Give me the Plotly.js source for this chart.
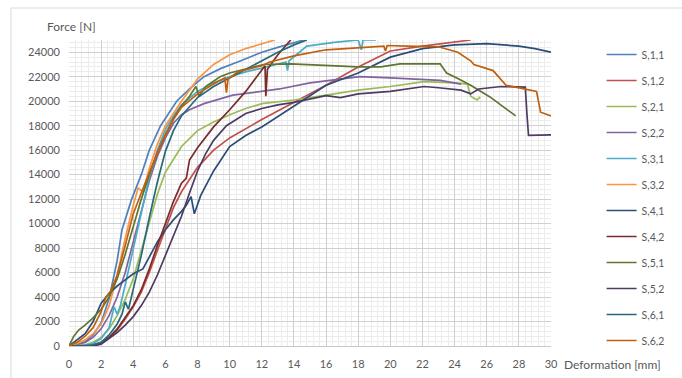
<!DOCTYPE html>
<html>
<head>
<meta charset="utf-8">
<script src="https://cdn.plot.ly/plotly-3.0.1.min.js"></script>
<style>html,body{margin:0;padding:0;background:#fff;}#chart{width:682px;height:378px;}</style>
</head>
<body>
<div id="chart"></div>
<script>
// ---- data (deformation [mm], force [N]) ----
const names = ["S,1,1","S,1,2","S,2,1","S,2,2","S,3,1","S,3,2","S,4,1","S,4,2","S,5,1","S,5,2","S,6,1","S,6,2"];
const colors = ["#4F81BD","#C0504D","#9BBB59","#8064A2","#4BACC6","#F79646","#2C4D75","#772C2A","#5F7530","#4D3B62","#276A7C","#C0600E"];

const s11x = [0,0.5,1,1.5,2,2.5,3,3.3,3.9,4.5,5,5.7,6.7,7.5,8.4,9.5,10.5,12,13,14,14.6];
const s11y = [0,100,350,900,1900,3900,7000,9500,12000,14000,16000,18000,20000,21000,22000,22700,23200,24000,24400,24800,25000];

const s12x = [0,1,1.5,2,2.5,3,3.5,4,4.5,5,5.5,6,6.5,7,7.5,8,9,10,12,14,16,18,20,22,24,25];
const s12y = [0,0,80,300,700,1300,2200,3200,4400,6000,7800,9600,11300,12600,13600,14600,16000,17000,18500,19900,21300,22800,24100,24500,24800,25000];

const s21x = [0,1,1.5,2,2.5,3,3.5,4,4.5,5,5.5,6,7,8,9,10,11,12,14,16.5,18,20,22.1,24,24.8,25,25.4,25.6];
const s21y = [0,100,300,700,1400,2500,3800,5500,7800,10200,12400,14200,16300,17600,18300,18900,19400,19800,20100,20600,20900,21200,21600,21500,21400,20400,20100,20350];

const s22x = [0,1,1.5,2,2.5,3,3.5,4,4.5,5,5.5,6,6.5,7,7.5,8.4,10.2,12,13.1,15,18.1,20,23.1,24.4];
const s22y = [0,300,700,1400,2500,4000,6000,8500,11000,13500,15500,17000,18200,18900,19300,19800,20500,20800,21000,21500,22000,21900,21700,21400];

const s31x = [0,1,1.5,2,2.5,2.8,3,3.2,3.5,4,4.5,5,5.5,6,6.5,7,8,9,10,11,12,13,13.5,13.6,13.7,14.8,16.5,18,18.2,18.3,19.1];
const s31y = [0,50,200,600,1500,3200,2600,3300,5000,8000,11000,13800,16000,17700,18800,19700,20800,21500,22000,22400,22700,23000,23200,22500,23300,24500,24800,25000,24200,25000,25000];

const s32x = [0,0.5,1,1.5,2,2.5,3,3.5,4,4.3,4.6,5,5.5,6,7,8,9,10,11,12,12.8];
const s32y = [0,200,500,1000,1800,3300,5800,8800,11500,12900,12600,14500,16500,18000,20000,21800,23000,23800,24300,24700,25000];

const s41x = [0,0.5,1,1.5,2,2.5,3,3.5,4,4.6,5,5.5,6,6.5,7,7.3,7.6,7.8,8.2,9,10,11,12,14,16,18,20,22,24,26,28,29,30];
const s41y = [0,500,1000,2000,3500,4300,4900,5400,5900,6300,7300,8500,9500,10300,11000,11500,12200,10800,12300,14300,16300,17200,17900,19600,21300,22300,23600,24300,24600,24700,24500,24300,24000];

const s42x = [0,1,1.5,2,2.5,3,3.5,4,4.5,5,5.5,6,6.5,7,7.3,7.5,8,9,10,11,12.2,12.25,12.35,13,13.8];
const s42y = [0,0,50,250,700,1400,2300,3300,4600,6300,8200,10000,11800,13300,13700,15200,16200,17900,19300,20800,22900,20400,22600,23800,25000];

const s51x = [0,0.3,0.6,1,1.5,2,2.5,3,3.5,4,4.5,5,5.5,6,6.5,7,7.5,7.9,8.1,8.5,9.4,10,12.1,13.8,16,18,19.4,20.6,23.1,23.5,24.2,25,26.2,27.8];
const s51y = [0,800,1300,1700,2300,3000,4000,5500,7500,9800,12000,14000,15800,17300,18600,19600,20400,21200,20400,21200,22000,22300,23000,23050,22900,22800,22800,23050,23050,22300,21850,21300,20350,18800];

const s52x = [0,1,1.5,2,2.5,3,3.5,4,4.5,5,5.5,6,6.5,7,7.5,8,8.5,9,9.8,11,12,13,14,16,16.9,18,20,22.1,23,24.4,25,25.5,26.9,28.4,28.5,28.6,30];
const s52y = [0,0,0,150,600,1100,1700,2400,3300,4400,5800,7400,9000,10600,12500,14300,15700,16800,18000,19000,19400,19700,19900,20450,20300,20600,20800,21200,21100,20900,20600,21000,21200,21150,19000,17200,17250];

const s61x = [0,1,1.5,2,2.5,3,3.3,3.5,3.7,4,4.5,5,5.5,6,6.5,7,8,9,10,11,12,13,14,14.8];
const s61y = [0,0,100,300,900,1800,2600,3600,3000,4600,7400,10500,13400,15900,17600,18800,20300,21200,21900,22600,23300,24000,24600,25000];

const s62x = [0,0.5,1,1.5,2,2.3,2.6,3,3.5,4,4.5,5,5.5,6,6.5,7,8,9,9.7,9.8,9.9,10.5,12,12.5,14,16,18,19.6,19.7,19.8,21,23,24.2,25,25.2,26.4,27.2,28.3,29.1,29.35,30];
const s62y = [0,300,800,1500,2800,4000,4500,5800,8200,10800,12500,14200,15800,17200,18500,19500,20600,21400,21900,20700,21800,22400,22900,23200,23700,24200,24400,24500,24100,24550,24500,24450,24000,23300,23000,22500,21300,21000,20800,19100,18800];

const xs = [s11x,s12x,s21x,s22x,s31x,s32x,s41x,s42x,s51x,s52x,s61x,s62x];
const ys = [s11y,s12y,s21y,s22y,s31y,s32y,s41y,s42y,s51y,s52y,s61y,s62y];

const traces = names.map((n,i)=>({
  x: xs[i], y: ys[i], name: n, type: 'scatter', mode: 'lines',
  line: {color: colors[i], width: 1.7},
  legendgroup: 'g'+i
}));

const font = "Lato, 'Open Sans', 'DejaVu Sans', sans-serif";
const layout = {
  width: 682, height: 378,
  margin: {l: 69, r: 131, t: 40, b: 32},
  paper_bgcolor: '#fff', plot_bgcolor: '#fff',
  font: {family: font, size: 11, color: '#595959'},
  showlegend: true,
  legend: {x: 1.105, xanchor: 'left', y: 1.0, yanchor: 'top', tracegroupgap: 7,
           font: {size: 10.5, color: '#595959'}, bgcolor: 'rgba(0,0,0,0)', itemwidth: 30},
  xaxis: {range: [0, 30], dtick: 2, tick0: 0, showgrid: true, gridcolor: '#d0d0d0', gridwidth: 1,
          minor: {dtick: 0.4, showgrid: true, gridcolor: '#ececec', gridwidth: 1},
          zeroline: false, showline: true, linecolor: '#c8c8c8', ticks: '', ticklabelstandoff: 8,
          tickfont: {size: 11, color: '#595959'}, fixedrange: true},
  yaxis: {range: [0, 25000], dtick: 2000, tick0: 0, tickformat: 'd', showgrid: true, gridcolor: '#d0d0d0', gridwidth: 1,
          minor: {dtick: 400, showgrid: true, gridcolor: '#ececec', gridwidth: 1},
          zeroline: false, showline: false, ticks: '', ticklabelstandoff: 8,
          tickfont: {size: 11, color: '#595959'}, fixedrange: true},
  annotations: [
    {text: 'Force [N]', xref: 'paper', yref: 'paper', x: (45-69)/482, y: (346-27)/306,
     xanchor: 'left', yanchor: 'middle', showarrow: false, font: {size: 12, color: '#595959'}},
    {text: 'Deformation [mm]', xref: 'paper', yref: 'paper', x: (562-69)/482, y: (346-364)/306,
     xanchor: 'left', yanchor: 'middle', showarrow: false, font: {size: 12, color: '#595959'}}
  ],
  shapes: [
    {type: 'rect', xref: 'paper', yref: 'paper', x0: (11-69)/482, x1: (690-69)/482,
     y0: (346-390)/306, y1: (346-8)/306, line: {color: '#d9d9d9', width: 1}, fillcolor: 'rgba(0,0,0,0)', layer: 'below'}
  ]
};

Plotly.newPlot('chart', traces, layout, {staticPlot: true, displayModeBar: false});
</script>
</body>
</html>
